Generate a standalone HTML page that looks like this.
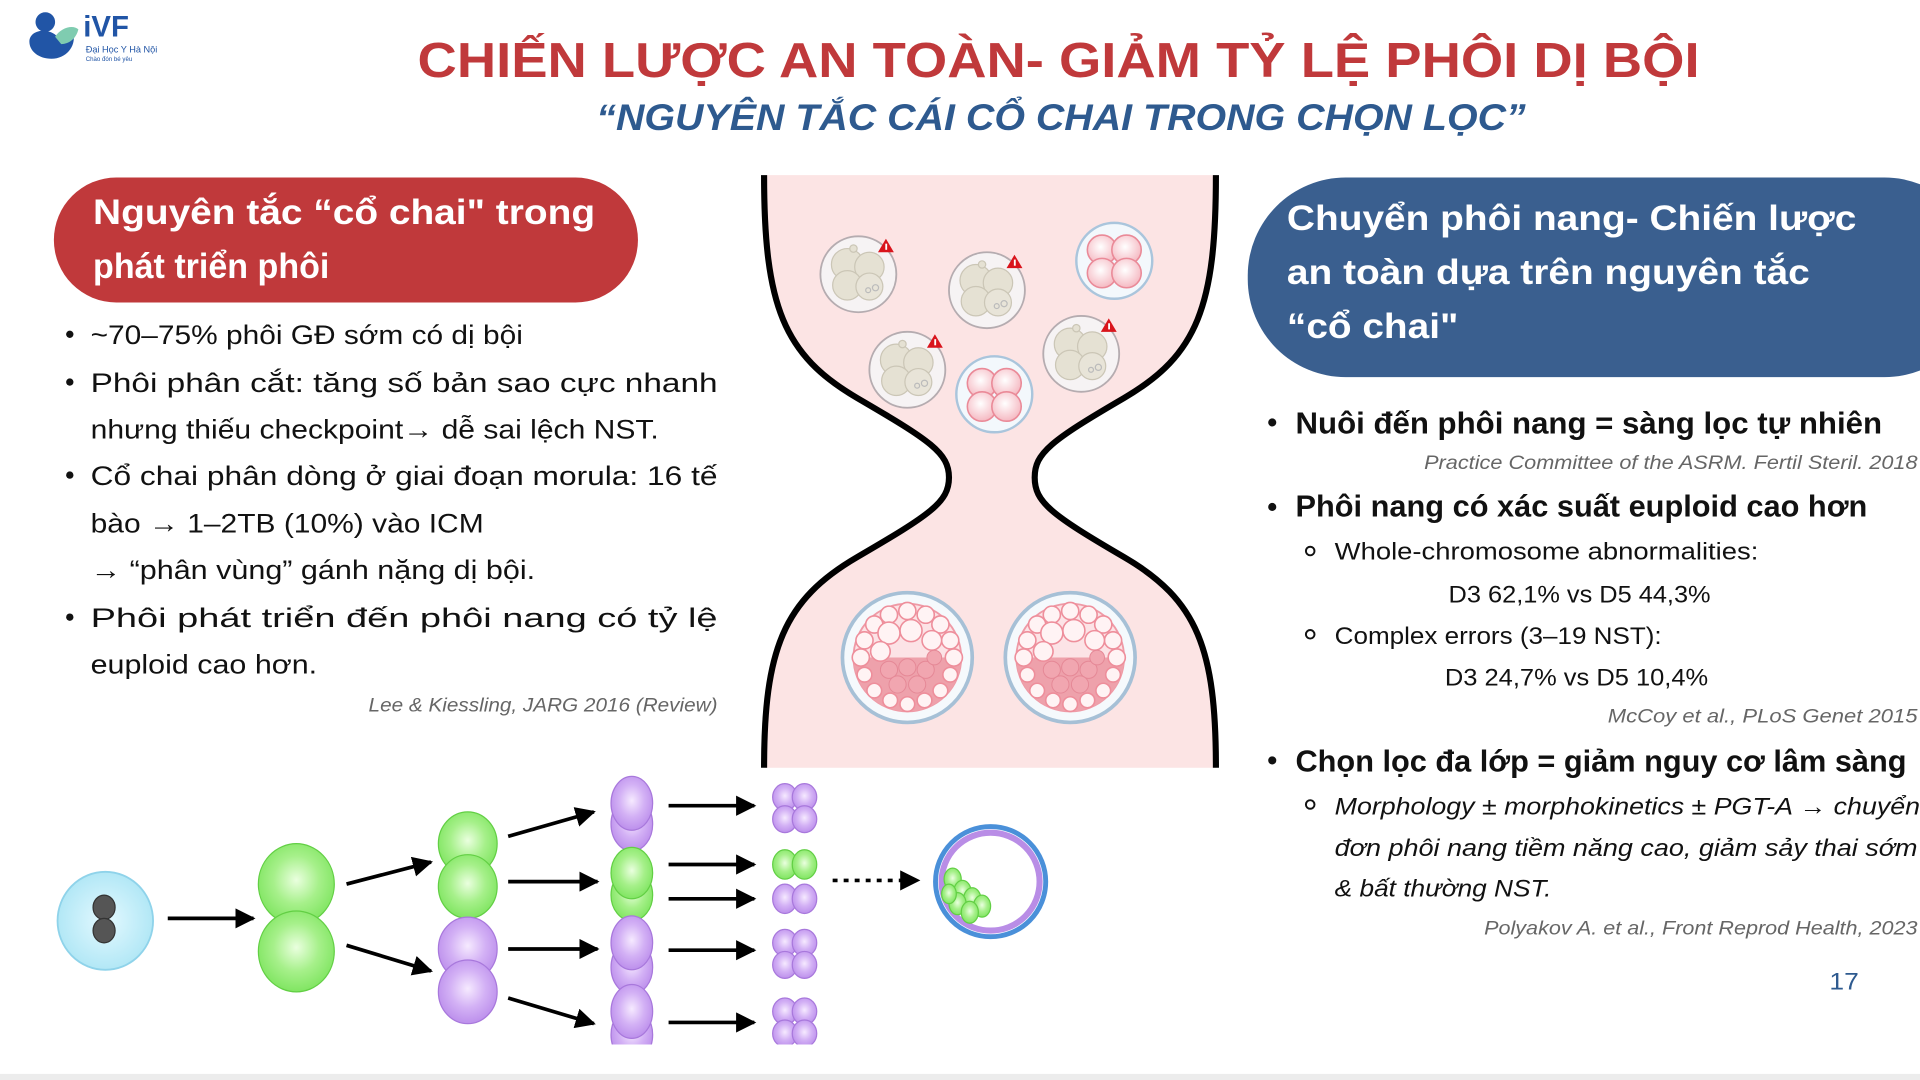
<!DOCTYPE html>
<html><head><meta charset="utf-8"><style>
html,body{margin:0;padding:0;background:#fff;width:1920px;height:1080px;overflow:hidden}
svg{display:block}
text{font-family:"Liberation Sans","DejaVu Sans",sans-serif}
</style></head><body>
<svg width="1920" height="1080" viewBox="0 0 1568 882" xmlns="http://www.w3.org/2000/svg">
<defs>
<radialGradient id="gG" cx="0.5" cy="0.45" r="0.6"><stop offset="0" stop-color="#eaffdf"/><stop offset="0.5" stop-color="#a6f08a"/><stop offset="1" stop-color="#79e35a"/></radialGradient>
<radialGradient id="gP" cx="0.5" cy="0.45" r="0.6"><stop offset="0" stop-color="#f6eaff"/><stop offset="0.5" stop-color="#d3b1f5"/><stop offset="1" stop-color="#b889ea"/></radialGradient>
<radialGradient id="gB" cx="0.5" cy="0.5" r="0.6"><stop offset="0" stop-color="#e4f9ff"/><stop offset="1" stop-color="#a8e4f4"/></radialGradient>
<radialGradient id="gK" cx="0.45" cy="0.4" r="0.6"><stop offset="0" stop-color="#fff"/><stop offset="1" stop-color="#f5b9c2"/></radialGradient>
<marker id="ar" viewBox="0 0 10 10" refX="9" refY="5" markerWidth="5.5" markerHeight="5.5" orient="auto"><path d="M0,0 L10,5 L0,10 Z" fill="#000"/></marker>
<g id="grayE">
 <circle r="31" fill="#f6f3f4" stroke="#b5acb0" stroke-width="1.5"/>
 <circle cx="-9" cy="-8" r="13" fill="#e5e1d3" stroke="#cbc6b6"/>
 <circle cx="9" cy="-6" r="12" fill="#e5e1d3" stroke="#cbc6b6"/>
 <circle cx="-9" cy="9" r="12" fill="#e5e1d3" stroke="#cbc6b6"/>
 <circle cx="9" cy="10" r="11" fill="#e8e4d8" stroke="#cbc6b6"/>
 <circle cx="-4" cy="-21" r="3" fill="#e5e1d3" stroke="#cbc6b6"/>
 <circle cx="8" cy="13" r="2" fill="none" stroke="#bbb"/>
 <circle cx="14" cy="11" r="2.5" fill="none" stroke="#bbb"/>
 <path d="M10,-21 L23,-21 L16.5,-32 Z" fill="#d9141c" transform="translate(6,3)"/>
 <rect x="22" y="-25" width="1.5" height="5" fill="#fff"/>
</g>
<g id="pinkE">
 <circle r="31" fill="#f3f8fc" stroke="#aac5dc" stroke-width="2"/>
 <circle cx="-10" cy="-9" r="12" fill="url(#gK)" stroke="#ea8a98" stroke-width="1.3"/>
 <circle cx="10" cy="-9" r="12" fill="url(#gK)" stroke="#ea8a98" stroke-width="1.3"/>
 <circle cx="-10" cy="10" r="12" fill="url(#gK)" stroke="#ea8a98" stroke-width="1.3"/>
 <circle cx="10" cy="10" r="12" fill="url(#gK)" stroke="#ea8a98" stroke-width="1.3"/>
</g>
<g id="blast">
 <circle r="53" fill="#f5f9fc" stroke="#a6c0d6" stroke-width="3"/>
 <circle r="44" fill="#fce3e6" stroke="#ef9aa6" stroke-width="1.5"/>
 <path d="M-44,0 A44,44 0 0 0 44,0 Z" fill="#eea1ab"/>
 <g fill="#fff3f4" stroke="#ee8e9b" stroke-width="1.3">
 <circle cx="0" cy="-38" r="7"/><circle cx="15" cy="-35" r="7"/><circle cx="27" cy="-27" r="7"/><circle cx="35" cy="-14" r="7"/><circle cx="38" cy="0" r="7"/><circle cx="35" cy="14" r="6"/><circle cx="27" cy="27" r="6"/><circle cx="14" cy="35" r="6"/><circle cx="0" cy="38" r="6"/><circle cx="-14" cy="35" r="6"/><circle cx="-27" cy="27" r="6"/><circle cx="-35" cy="14" r="6"/><circle cx="-38" cy="0" r="7"/><circle cx="-35" cy="-14" r="7"/><circle cx="-27" cy="-27" r="7"/><circle cx="-15" cy="-35" r="7"/>
 <circle cx="-15" cy="-20" r="9"/><circle cx="3" cy="-22" r="9"/><circle cx="20" cy="-14" r="8"/><circle cx="-22" cy="-5" r="8"/>
 </g>
 <g fill="#f1a6b0" stroke="#e58896" stroke-width="0.8">
 <circle cx="-15" cy="10" r="7"/><circle cx="0" cy="8" r="7"/><circle cx="15" cy="10" r="7"/><circle cx="-8" cy="22" r="7"/><circle cx="8" cy="22" r="7"/><circle cx="22" cy="0" r="6"/>
 </g>
</g>
<g id="p4"><ellipse cx="-8" cy="-9" rx="10" ry="11" fill="url(#gP)" stroke="#a878dc"/><ellipse cx="8" cy="-9" rx="10" ry="11" fill="url(#gP)" stroke="#a878dc"/><ellipse cx="-8" cy="9" rx="10" ry="11" fill="url(#gP)" stroke="#a878dc"/><ellipse cx="8" cy="9" rx="10" ry="11" fill="url(#gP)" stroke="#a878dc"/></g>
</defs>

<!-- logo -->
<circle cx="37" cy="18" r="8" fill="#2155a6"/>
<path d="M24,34 C24,24 40,22 47,30 C52,36 58,32 60,28 C62,38 54,48 42,48 C32,48 24,42 24,34 Z" fill="#2155a6"/>
<path d="M45,30 C50,22 60,20 64,24 C62,32 56,36 50,36 Z" fill="#7fccb0"/>
<text x="68" y="30" font-size="24" font-weight="bold" fill="#2155a6">iVF</text>
<text x="70" y="43" font-size="7.5" fill="#2155a6">Đại Học Y Hà Nội</text>
<text x="70" y="50" font-size="5" fill="#2155a6">Chào đón bé yêu</text>

<!-- titles -->
<text x="341" y="63" font-size="40" font-weight="bold" fill="#c0393b" textLength="1047" lengthAdjust="spacingAndGlyphs">CHIẾN LƯỢC  AN TOÀN- GIẢM TỶ LỆ PHÔI DỊ BỘI</text>
<text x="487" y="106" font-size="30" font-weight="bold" font-style="italic" fill="#2e5a8f" textLength="759" lengthAdjust="spacingAndGlyphs">“NGUYÊN TẮC CÁI CỔ CHAI TRONG CHỌN LỌC”</text>

<!-- red pill -->
<rect x="44" y="145" width="477" height="102" rx="51" fill="#c0393b"/>
<text x="76" y="183" font-size="29" font-weight="bold" fill="#fff" textLength="410" lengthAdjust="spacingAndGlyphs">Nguyên tắc “cổ chai" trong</text>
<text x="76" y="227" font-size="29" font-weight="bold" fill="#fff" textLength="193" lengthAdjust="spacingAndGlyphs">phát triển phôi</text>

<!-- left bullets -->
<g font-size="22" fill="#111">
<circle cx="57" cy="273" r="3" fill="#111"/><circle cx="57" cy="312" r="3" fill="#111"/><circle cx="57" cy="388" r="3" fill="#111"/><circle cx="57" cy="504" r="3" fill="#111"/>
<text x="74" y="281" textLength="353" lengthAdjust="spacingAndGlyphs">~70–75% phôi GĐ sớm có dị bội</text>
<text x="74" y="320" textLength="512" lengthAdjust="spacingAndGlyphs">Phôi phân cắt: tăng số bản sao cực nhanh</text>
<text x="74" y="358" textLength="464" lengthAdjust="spacingAndGlyphs">nhưng thiếu checkpoint→ dễ sai lệch NST.</text>
<text x="74" y="396" textLength="512" lengthAdjust="spacingAndGlyphs">Cổ chai phân dòng ở giai đoạn morula: 16 tế</text>
<text x="74" y="435" textLength="321" lengthAdjust="spacingAndGlyphs">bào → 1–2TB  (10%) vào ICM</text>
<text x="74" y="473" textLength="363" lengthAdjust="spacingAndGlyphs">→ “phân vùng” gánh nặng dị bội.</text>
<text x="74" y="512" textLength="512" lengthAdjust="spacingAndGlyphs">Phôi phát triển đến phôi nang có tỷ lệ</text>
<text x="74" y="550" textLength="185" lengthAdjust="spacingAndGlyphs">euploid cao hơn.</text>
</g>
<text x="301" y="581" font-size="16" font-style="italic" fill="#666" textLength="285" lengthAdjust="spacingAndGlyphs">Lee &amp; Kiessling, JARG 2016 (Review)</text>

<!-- hourglass -->
<path d="M624,143 C624,250 640,290 700,325 C760,360 775,370 775,390 C775,410 760,420 700,455 C640,490 624,530 624,627 L993,627 C993,530 978,490 918,455 C858,420 845,410 845,390 C845,370 858,360 918,325 C978,290 993,250 993,143 Z" fill="#fce4e4"/>
<g fill="none" stroke="#000" stroke-width="5">
<path d="M624,143 C624,250 640,290 700,325 C760,360 775,370 775,390 C775,410 760,420 700,455 C640,490 624,530 624,627"/>
<path d="M993,143 C993,250 978,290 918,325 C858,360 845,370 845,390 C845,410 858,420 918,455 C978,490 993,530 993,627"/>
</g>
<use href="#grayE" x="701" y="224"/>
<use href="#grayE" x="806" y="237"/>
<use href="#grayE" x="741" y="302"/>
<use href="#grayE" x="883" y="289"/>
<use href="#pinkE" x="910" y="213"/>
<use href="#pinkE" x="812" y="322"/>
<use href="#blast" x="741" y="537"/>
<use href="#blast" x="874" y="537"/>

<!-- bottom diagram -->
<ellipse cx="86" cy="752" rx="39" ry="40" fill="url(#gB)" stroke="#8fd3ea" stroke-width="1.5"/>
<ellipse cx="85" cy="741" rx="9" ry="10" fill="#555" stroke="#333"/><ellipse cx="85" cy="760" rx="9" ry="10" fill="#555" stroke="#333"/>
<g stroke="#000" stroke-width="3" marker-end="url(#ar)">
<line x1="137" y1="750" x2="207" y2="750"/>
<line x1="283" y1="722" x2="352" y2="704"/>
<line x1="283" y1="772" x2="352" y2="793"/>
<line x1="415" y1="683" x2="485" y2="663"/>
<line x1="415" y1="720" x2="488" y2="720"/>
<line x1="415" y1="775" x2="488" y2="775"/>
<line x1="415" y1="815" x2="485" y2="836"/>
<line x1="546" y1="658" x2="616" y2="658"/>
<line x1="546" y1="706" x2="616" y2="706"/>
<line x1="546" y1="734" x2="616" y2="734"/>
<line x1="546" y1="776" x2="616" y2="776"/>
<line x1="546" y1="835" x2="616" y2="835"/>
<line x1="680" y1="719" x2="750" y2="719" stroke-dasharray="4,5"/>
</g>
<ellipse cx="242" cy="722" rx="31" ry="33" fill="url(#gG)" stroke="#62cf44"/>
<ellipse cx="242" cy="777" rx="31" ry="33" fill="url(#gG)" stroke="#62cf44"/>
<ellipse cx="382" cy="689" rx="24" ry="26" fill="url(#gG)" stroke="#62cf44"/>
<ellipse cx="382" cy="724" rx="24" ry="26" fill="url(#gG)" stroke="#62cf44"/>
<ellipse cx="382" cy="775" rx="24" ry="26" fill="url(#gP)" stroke="#a878dc"/>
<ellipse cx="382" cy="810" rx="24" ry="26" fill="url(#gP)" stroke="#a878dc"/>
<ellipse cx="516" cy="673" rx="17" ry="22" fill="url(#gP)" stroke="#a878dc"/><ellipse cx="516" cy="656" rx="17" ry="22" fill="url(#gP)" stroke="#a878dc"/>
<ellipse cx="516" cy="731" rx="17" ry="21" fill="url(#gG)" stroke="#62cf44"/><ellipse cx="516" cy="713" rx="17" ry="21" fill="url(#gG)" stroke="#62cf44"/>
<ellipse cx="516" cy="790" rx="17" ry="22" fill="url(#gP)" stroke="#a878dc"/><ellipse cx="516" cy="770" rx="17" ry="22" fill="url(#gP)" stroke="#a878dc"/>
<ellipse cx="516" cy="845" rx="17" ry="22" fill="url(#gP)" stroke="#a878dc"/><ellipse cx="516" cy="826" rx="17" ry="22" fill="url(#gP)" stroke="#a878dc"/>
<use href="#p4" x="649" y="660"/>
<ellipse cx="641" cy="706" rx="10" ry="12" fill="url(#gG)" stroke="#62cf44"/><ellipse cx="657" cy="706" rx="10" ry="12" fill="url(#gG)" stroke="#62cf44"/>
<ellipse cx="641" cy="734" rx="10" ry="12" fill="url(#gP)" stroke="#a878dc"/><ellipse cx="657" cy="734" rx="10" ry="12" fill="url(#gP)" stroke="#a878dc"/>
<use href="#p4" x="649" y="779"/>
<use href="#p4" x="649" y="835"/>
<rect x="0" y="853" width="700" height="24" fill="#fff"/>
<circle cx="809" cy="720" r="45" fill="#fff" stroke="#4a90d9" stroke-width="4"/>
<circle cx="809" cy="720" r="40" fill="none" stroke="#b98de6" stroke-width="5"/>
<g fill="url(#gG)" stroke="#62cf44"><ellipse cx="778" cy="718" rx="7" ry="9"/><ellipse cx="786" cy="728" rx="7" ry="9"/><ellipse cx="794" cy="734" rx="7" ry="9"/><ellipse cx="802" cy="740" rx="7" ry="9"/><ellipse cx="782" cy="738" rx="7" ry="9"/><ellipse cx="792" cy="745" rx="7" ry="9"/><ellipse cx="775" cy="730" rx="6" ry="8"/></g>

<!-- blue pill -->
<rect x="1019" y="145" width="600" height="163" rx="80" fill="#3a5f8f"/>
<g font-size="29" font-weight="bold" fill="#fff">
<text x="1051" y="188" textLength="465" lengthAdjust="spacingAndGlyphs">Chuyển phôi nang- Chiến lược</text>
<text x="1051" y="232" textLength="427" lengthAdjust="spacingAndGlyphs">an toàn dựa trên nguyên tắc</text>
<text x="1051" y="276" textLength="140" lengthAdjust="spacingAndGlyphs">“cổ chai"</text>
</g>

<!-- right bullets -->
<g fill="#111">
<circle cx="1039" cy="345" r="3.3"/><circle cx="1039" cy="414" r="3.3"/><circle cx="1039" cy="621" r="3.3"/>
<g font-size="25" font-weight="bold">
<text x="1058" y="354" textLength="479" lengthAdjust="spacingAndGlyphs">Nuôi đến phôi nang = sàng lọc tự nhiên</text>
<text x="1058" y="422" textLength="467" lengthAdjust="spacingAndGlyphs">Phôi nang có xác suất euploid cao hơn</text>
<text x="1058" y="630" textLength="499" lengthAdjust="spacingAndGlyphs">Chọn lọc đa lớp = giảm nguy cơ lâm sàng</text>
</g>
<g fill="none" stroke="#111" stroke-width="1.6"><circle cx="1070" cy="450" r="3.5"/><circle cx="1070" cy="518" r="3.5"/><circle cx="1070" cy="657" r="3.5"/></g>
<g font-size="20">
<text x="1090" y="457" textLength="346" lengthAdjust="spacingAndGlyphs">Whole-chromosome abnormalities:</text>
<text x="1183" y="492" textLength="214" lengthAdjust="spacingAndGlyphs">D3 62,1% vs D5 44,3%</text>
<text x="1090" y="526" textLength="267" lengthAdjust="spacingAndGlyphs">Complex errors (3–19 NST):</text>
<text x="1180" y="560" textLength="215" lengthAdjust="spacingAndGlyphs">D3 24,7% vs D5 10,4%</text>
</g>
<g font-size="20" font-style="italic">
<text x="1090" y="665" textLength="478" lengthAdjust="spacingAndGlyphs">Morphology ± morphokinetics ± PGT-A → chuyển</text>
<text x="1090" y="699" textLength="476" lengthAdjust="spacingAndGlyphs">đơn phôi nang tiềm năng cao, giảm sảy thai sớm</text>
<text x="1090" y="732" textLength="177" lengthAdjust="spacingAndGlyphs">&amp; bất thường NST.</text>
</g>
</g>
<g font-size="16" font-style="italic" fill="#666">
<text x="1163" y="383" textLength="403" lengthAdjust="spacingAndGlyphs">Practice Committee of the ASRM. Fertil Steril. 2018</text>
<text x="1313" y="590" textLength="253" lengthAdjust="spacingAndGlyphs">McCoy et al., PLoS Genet 2015</text>
<text x="1212" y="763" textLength="354" lengthAdjust="spacingAndGlyphs">Polyakov A. et al., Front Reprod Health, 2023</text>
</g>
<text x="1494" y="808" font-size="20" fill="#2e5a8f" textLength="24" lengthAdjust="spacingAndGlyphs">17</text>
<rect x="0" y="877" width="1568" height="5" fill="#ececec"/>
</svg>
</body></html>
